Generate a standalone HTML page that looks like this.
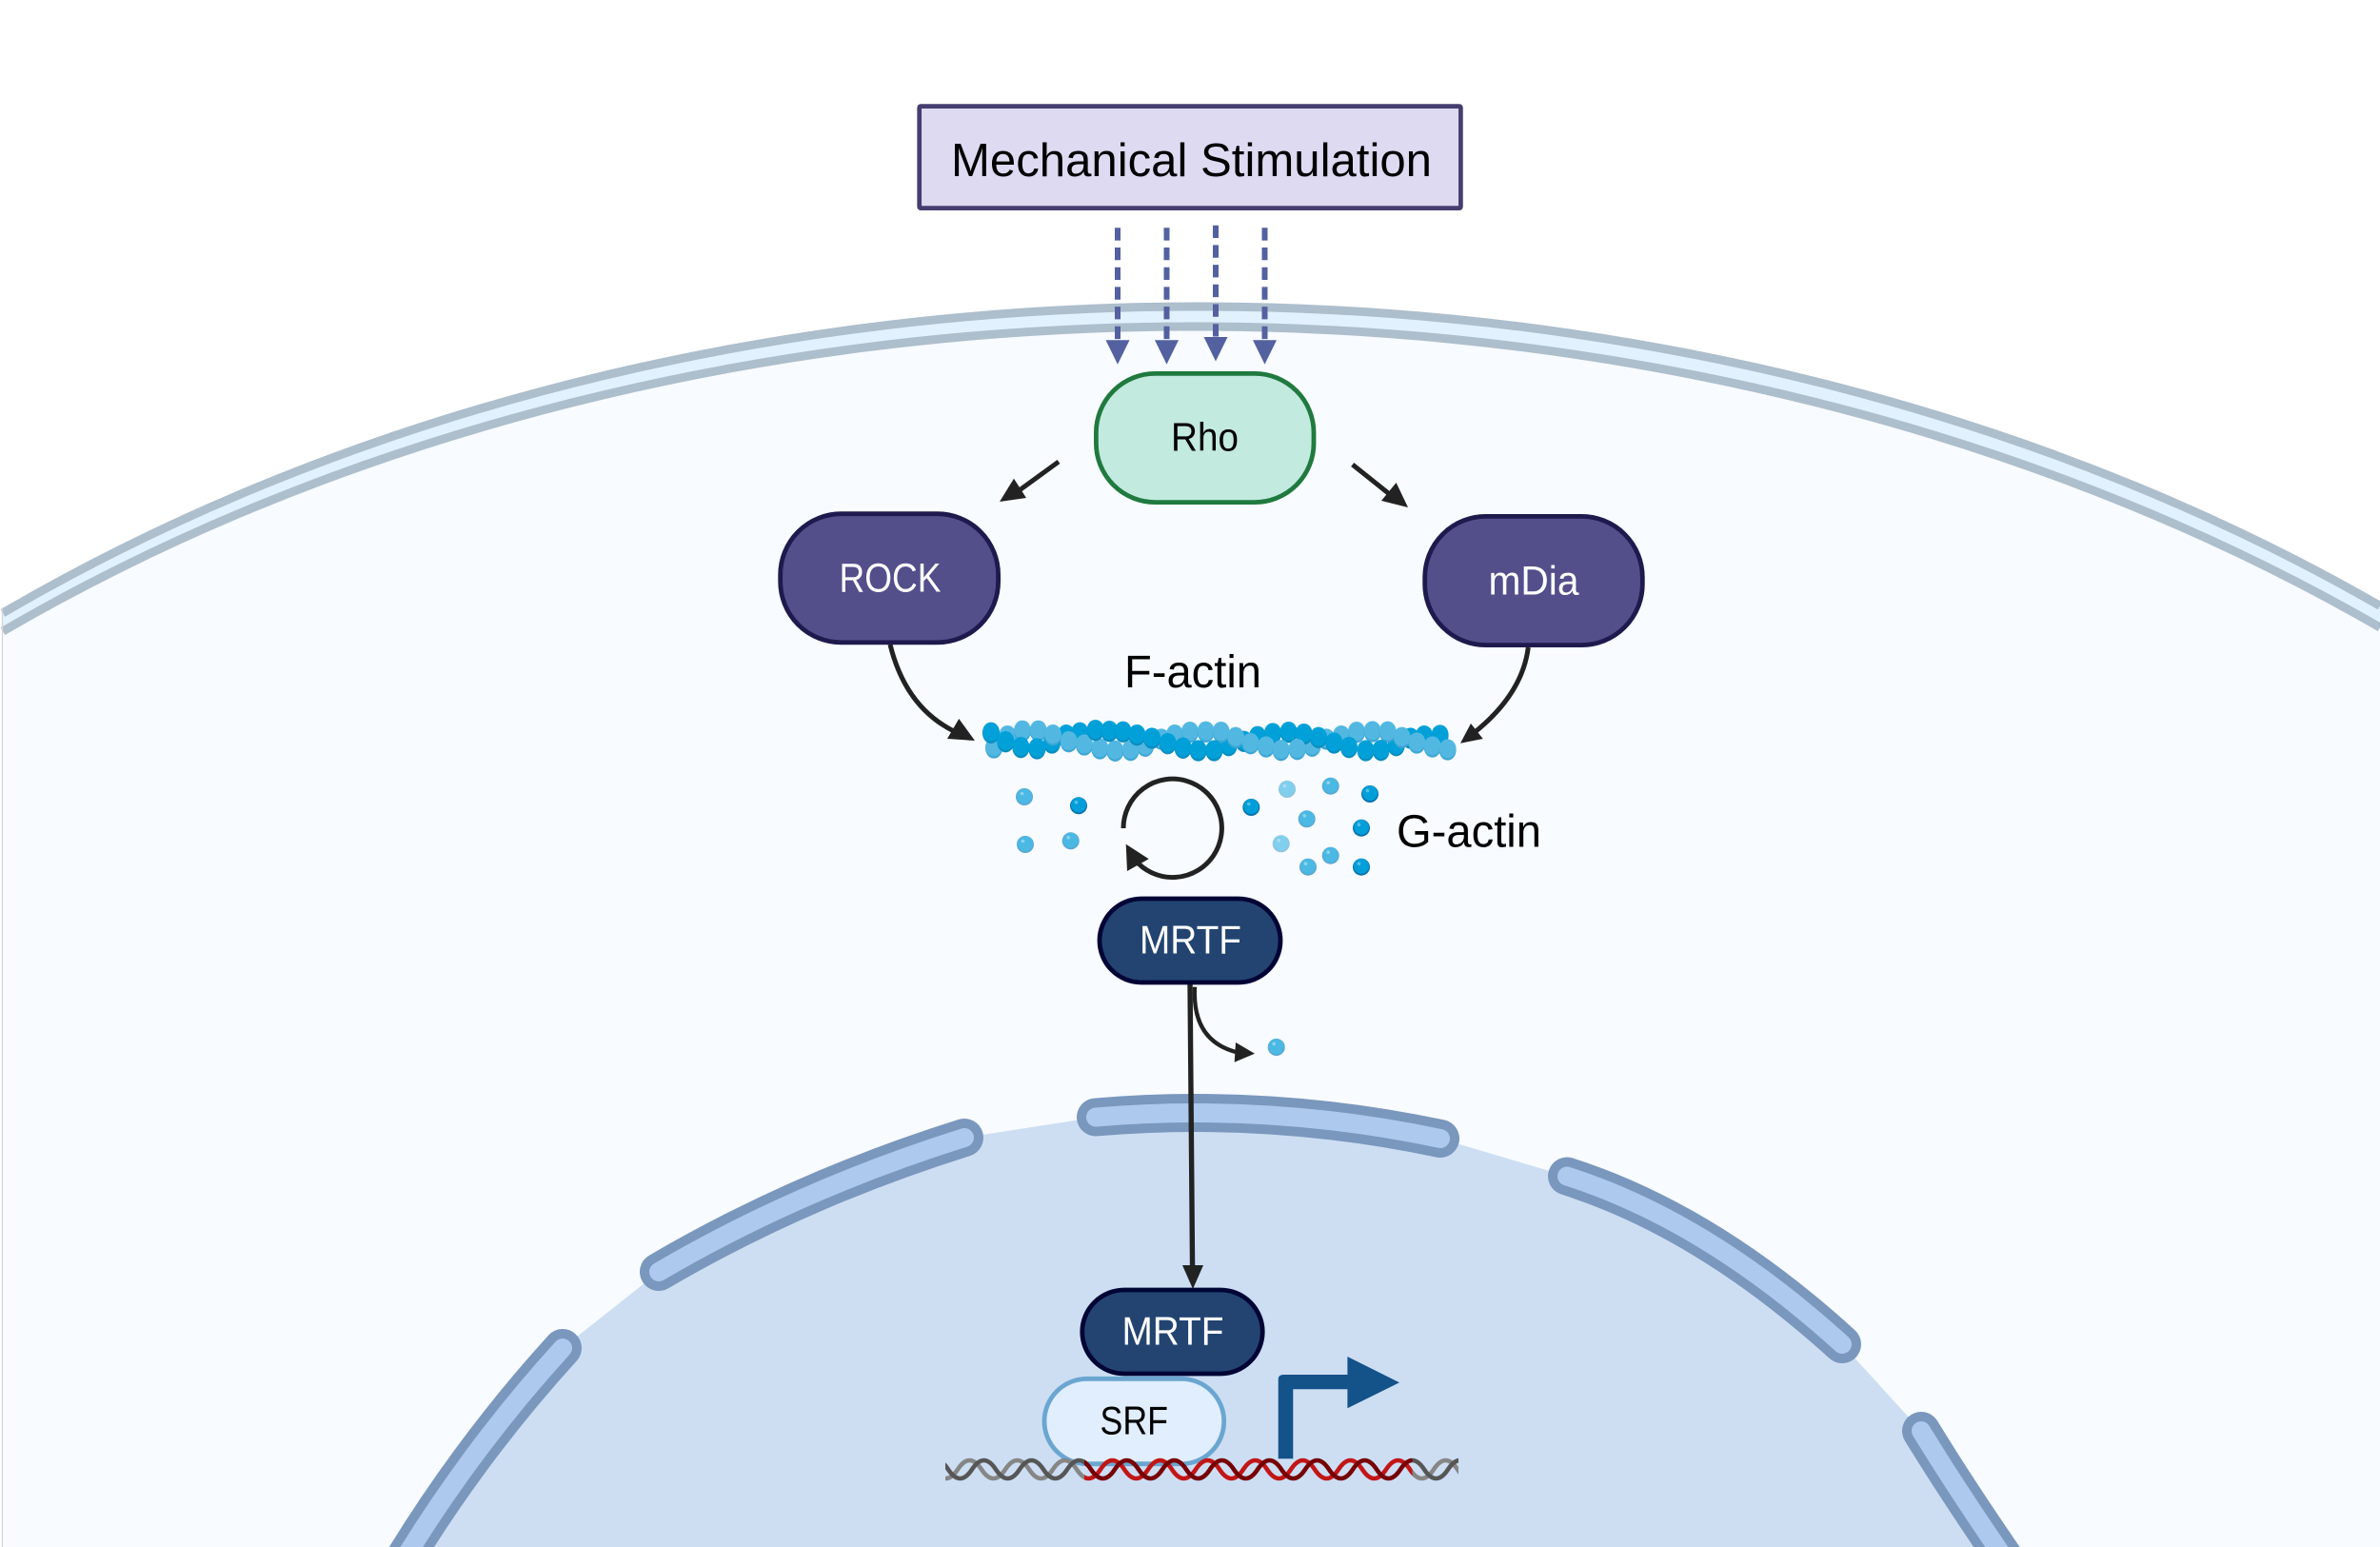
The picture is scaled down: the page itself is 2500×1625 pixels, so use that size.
<!DOCTYPE html>
<html><head><meta charset="utf-8"><style>
html,body{margin:0;padding:0;background:#fff}
svg{display:block}
text{font-family:"Liberation Sans",sans-serif}
</style></head><body>
<svg width="2500" height="1625" viewBox="0 0 2500 1625" xmlns="http://www.w3.org/2000/svg">
<defs>
<g id="D"><ellipse cx="0" cy="2" rx="27" ry="33" fill="#0a8cbf"/><ellipse cx="0" cy="-2" rx="26.5" ry="30" fill="#01a0d8"/></g>
<g id="L"><ellipse cx="0" cy="2" rx="27" ry="33" fill="#3ea6d3"/><ellipse cx="0" cy="-2" rx="26.5" ry="30" fill="#52b8e2"/></g>
<g id="gm"><circle r="9" fill="#5ba6d2"/><circle cy="-.7" r="8" fill="#4bb9e3"/><circle cx="-2.5" cy="-3.5" r="1.8" fill="#8dd4ef"/></g>
<g id="gd"><circle r="9" fill="#0a72ae"/><circle cy="-.9" r="7.9" fill="#019fd9"/><circle cx="-2.5" cy="-3.5" r="1.8" fill="#58bfe6"/></g>
<g id="gl"><circle r="9" fill="#90c3de"/><circle cy="-.7" r="8" fill="#7fcfed"/><circle cx="-2.5" cy="-3.5" r="1.8" fill="#a8e0f4"/></g>
<path id="sine" fill="none" stroke-width="4.6" d="M956 1543.5Q968.5 1524.5 981 1543.5T1006 1543.5T1031 1543.5T1056 1543.5T1081 1543.5T1106 1543.5T1131 1543.5T1156 1543.5T1181 1543.5T1206 1543.5T1231 1543.5T1256 1543.5T1281 1543.5T1306 1543.5T1331 1543.5T1356 1543.5T1381 1543.5T1406 1543.5T1431 1543.5T1456 1543.5T1481 1543.5T1506 1543.5T1531 1543.5T1556 1543.5"/>
<clipPath id="cg"><path d="M993 1520H1139V1570H993ZM1483.5 1520H1532V1570H1483.5Z"/></clipPath>
<clipPath id="cr"><rect x="1139" y="1520" width="344.5" height="50"/></clipPath>
</defs>

<rect width="2500" height="1625" fill="#fff"/>
<!-- cell -->
<path d="M3 643.9A2003 1459 0 0 1 2500 636.4L2500 1625L3 1625Z" fill="#f8fbff"/>
<path d="M3 643.9A2003 1459 0 0 1 2500 636.4L2500 659.1A2003 1459 0 0 0 3 663.1Z" fill="#e2f1fe"/>
<path d="M3 643.9A2003 1459 0 0 1 2500 636.4" fill="none" stroke="#adbecc" stroke-width="9"/>
<path d="M3 663.1A2003 1459 0 0 1 2500 659.1" fill="none" stroke="#adbecc" stroke-width="9"/>
<path d="M2.5 638V1625" stroke="#d2d4d6" stroke-width="1.2"/>

<!-- nucleus -->
<path d="M411 1660Q489 1528 591 1416L692 1336Q839.5 1249.5 1013 1195L1151 1173.5Q1333 1158 1513 1196L1646 1235.5Q1792 1282 1935 1412L2018 1503Q2059 1570 2118 1655Z" fill="#cddef3"/>
<g fill="none" stroke-linecap="round">
<g stroke="#7a97bd" stroke-width="40">
<path d="M591 1416Q489 1528 411 1660"/>
<path d="M1013 1195Q839.5 1249.5 692 1336"/>
<path d="M1151 1173.5Q1333 1158 1513 1196"/>
<path d="M1646 1235.5Q1792 1282 1935 1412"/>
<path d="M2018 1503Q2059 1570 2118 1655"/>
</g>
<g stroke="#adc9ee" stroke-width="20">
<path d="M591 1416Q489 1528 411 1660"/>
<path d="M1013 1195Q839.5 1249.5 692 1336"/>
<path d="M1151 1173.5Q1333 1158 1513 1196"/>
<path d="M1646 1235.5Q1792 1282 1935 1412"/>
<path d="M2018 1503Q2059 1570 2118 1655"/>
</g>
</g>

<!-- stimulation box -->
<rect x="965.7" y="111.6" width="568.7" height="107" fill="#dddaf1" stroke="#453e6f" stroke-width="4.7" rx="1.5"/>
<text x="999" y="185" font-size="49" fill="#000" textLength="505" lengthAdjust="spacingAndGlyphs">Mechanical Stimulation</text>

<!-- dashed arrows -->
<g stroke="#5361a0" stroke-width="6" stroke-dasharray="13.3 7.4" fill="none">
<path d="M1174 239.3V357"/><path d="M1225.5 239.3V357"/><path d="M1277 236.7V354"/><path d="M1328.5 239.3V357"/>
</g>
<g fill="#5361a0">
<path d="M1161.5 357.3H1186.5L1174 382.7Z"/>
<path d="M1213 357.3H1238L1225.5 382.7Z"/>
<path d="M1264.5 354H1289.5L1277 379.5Z"/>
<path d="M1316 357.3H1341L1328.5 382.7Z"/>
</g>

<!-- Rho -->
<rect x="1151.4" y="392.4" width="228.6" height="135.2" rx="62" fill="#c2eadf" stroke="#207a3f" stroke-width="4.8"/>
<text x="1230" y="473.3" font-size="42" fill="#000" textLength="71" lengthAdjust="spacingAndGlyphs">Rho</text>

<!-- arrows -->
<g fill="none" stroke="#222" stroke-width="5">
<path d="M1112 485L1068 517"/>
<path d="M1420.7 488L1462 521"/>
<path d="M935 677Q951.5 744 1004 769"/>
<path d="M1605.3 680Q1599 729.4 1548 770"/>
<path d="M1255 1036.7Q1252 1095 1302 1106" stroke-width="4.3"/>
<path d="M1180 870A51.7 51.7 0 1 1 1192 903"/>
<path d="M1250 1030L1252.6 1335" stroke-width="5.4"/>
</g>
<g fill="#222">
<path d="M1050 527L1065 502.7L1078 523Z"/>
<path d="M1479 533L1466.6 507L1451 526Z"/>
<path d="M1024 778L1007.3 755L995 776Z"/>
<path d="M1534 780.7L1545 760L1557.7 776Z"/>
<path d="M1318 1106.7L1298 1095L1296.7 1115.7Z"/>
<path d="M1182.7 886.7L1184 915L1206.7 902.3Z"/>
<path d="M1253 1354L1242 1329L1264 1329Z"/>
</g>

<!-- ROCK / mDia -->
<rect x="819.7" y="539.7" width="228.9" height="135.2" rx="64" fill="#534f8b" stroke="#1e1a4d" stroke-width="4.8"/>
<text x="881.5" y="621.7" font-size="43" fill="#fff" textLength="107" lengthAdjust="spacingAndGlyphs">ROCK</text>
<rect x="1496.7" y="542.4" width="228.6" height="135.2" rx="64" fill="#534f8b" stroke="#1e1a4d" stroke-width="4.8"/>
<text x="1563.5" y="624.3" font-size="43" fill="#fff" textLength="95" lengthAdjust="spacingAndGlyphs">mDia</text>

<text x="1181" y="722" font-size="48" fill="#000" textLength="144" lengthAdjust="spacingAndGlyphs">F-actin</text>
<text x="1467" y="889.5" font-size="48" fill="#000" textLength="152" lengthAdjust="spacingAndGlyphs">G-actin</text>

<!-- F-actin filament -->
<g transform="translate(1020 740) scale(.3333)">
<use href="#L" x="72" y="135"/><use href="#L" x="115" y="98"/><use href="#D" x="300" y="95"/><use href="#D" x="255" y="120"/><use href="#L" x="549" y="130"/><use href="#L" x="600" y="108"/><use href="#D" x="812" y="128"/><use href="#D" x="860" y="115"/><use href="#L" x="1075" y="130"/><use href="#L" x="1120" y="108"/><use href="#D" x="1340" y="128"/><use href="#D" x="1385" y="105"/>
<use href="#D" x="63" y="88"/><use href="#L" x="162" y="82"/><use href="#L" x="212" y="82"/><use href="#D" x="109" y="116"/><use href="#D" x="157" y="134"/><use href="#D" x="208" y="138"/><use href="#L" x="258" y="95"/>
<use href="#D" x="343" y="88"/><use href="#L" x="308" y="116"/><use href="#L" x="357" y="126"/><use href="#L" x="406" y="138"/><use href="#L" x="454" y="145"/><use href="#L" x="503" y="143"/>
<use href="#D" x="392" y="80"/><use href="#D" x="436" y="83"/><use href="#D" x="479" y="85"/><use href="#D" x="523" y="95"/><use href="#D" x="570" y="105"/>
<use href="#L" x="642" y="95"/><use href="#L" x="690" y="86"/><use href="#L" x="740" y="85"/><use href="#L" x="788" y="86"/><use href="#D" x="620" y="122"/><use href="#D" x="668" y="136"/><use href="#D" x="716" y="144"/><use href="#D" x="766" y="144"/><use href="#L" x="834" y="103"/>
<use href="#D" x="903" y="100"/><use href="#L" x="881" y="122"/><use href="#D" x="951" y="90"/><use href="#D" x="1001" y="86"/><use href="#D" x="1049" y="92"/><use href="#L" x="930" y="132"/><use href="#L" x="977" y="143"/><use href="#L" x="1028" y="140"/><use href="#D" x="1095" y="103"/>
<use href="#L" x="1167" y="98"/><use href="#L" x="1215" y="86"/><use href="#L" x="1265" y="84"/><use href="#L" x="1313" y="85"/><use href="#D" x="1144" y="120"/><use href="#D" x="1191" y="134"/><use href="#D" x="1244" y="144"/><use href="#D" x="1292" y="143"/><use href="#L" x="1358" y="103"/>
<use href="#D" x="1428" y="98"/><use href="#D" x="1478" y="96"/><use href="#L" x="1405" y="120"/><use href="#L" x="1454" y="132"/><use href="#L" x="1502" y="141"/>
</g>

<!-- G-actin -->
<use href="#gm" x="1076" y="837"/><use href="#gm" x="1077" y="887"/><use href="#gm" x="1124.7" y="883.3"/><use href="#gm" x="1397.7" y="825.7"/><use href="#gm" x="1372.7" y="860.3"/><use href="#gm" x="1397.7" y="898.7"/><use href="#gm" x="1374" y="910.7"/>
<use href="#gd" x="1133" y="846.3"/><use href="#gd" x="1314.3" y="848"/><use href="#gd" x="1439" y="834"/><use href="#gd" x="1430" y="869.7"/><use href="#gd" x="1430" y="910.7"/>
<use href="#gl" x="1352" y="829"/><use href="#gl" x="1345.7" y="886.3"/>
<use href="#gm" x="1340.7" y="1100"/>

<!-- MRTF -->
<rect x="1155" y="944" width="190" height="88" rx="44" fill="#234471" stroke="#010536" stroke-width="4.8"/>
<text x="1197" y="1001.7" font-size="42" fill="#fff" textLength="107" lengthAdjust="spacingAndGlyphs">MRTF</text>

<!-- SRF -->
<rect x="1097" y="1448.3" width="188.7" height="89.4" rx="44.7" fill="#e1eefe" stroke="#6ba6d1" stroke-width="4.8"/>
<text x="1155.5" y="1506.7" font-size="42" fill="#000" textLength="71.5" lengthAdjust="spacingAndGlyphs">SRF</text>
<rect x="1136.8" y="1355" width="189.4" height="88" rx="44" fill="#234471" stroke="#010536" stroke-width="4.8"/>
<text x="1178.5" y="1412.7" font-size="42" fill="#fff" textLength="107" lengthAdjust="spacingAndGlyphs">MRTF</text>

<!-- promoter -->
<path d="M1342.7 1532.3V1449Q1342.7 1444 1348 1444H1415.4V1425L1470 1452.3L1415.4 1479.3V1459.3H1358.3V1532.3Z" fill="#14528a"/>

<!-- DNA -->
<g clip-path="url(#cg)">
<use href="#sine" stroke="#868686"/>
<use href="#sine" x="15" stroke="#565656"/>
</g>
<g clip-path="url(#cr)">
<use href="#sine" stroke="#c21616"/>
<use href="#sine" x="15" stroke="#760004"/>
</g>
</svg>
</body></html>
